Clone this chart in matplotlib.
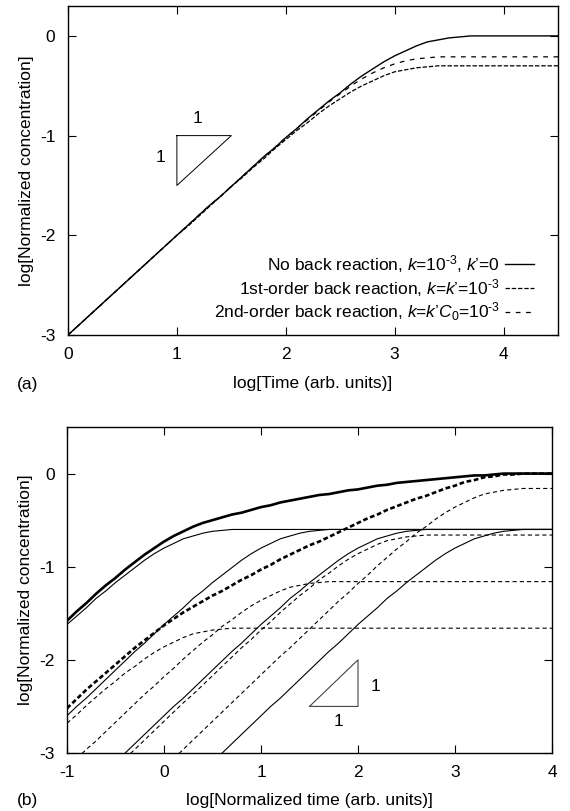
import numpy as np
import matplotlib
matplotlib.use("Agg")
import matplotlib.pyplot as plt

plt.rcParams['font.family'] = ['Liberation Sans', 'DejaVu Sans']
plt.rcParams['mathtext.fontset'] = 'custom'
plt.rcParams['mathtext.rm'] = 'Liberation Sans'
plt.rcParams['mathtext.it'] = 'Liberation Sans:italic'
plt.rcParams['mathtext.bf'] = 'Liberation Sans:bold'
plt.rcParams['axes.unicode_minus'] = False
plt.rcParams['lines.scale_dashes'] = False

# ---------------- panel (a) data: log time 0..4.5, step 0.1 ----------------
xa = np.round(np.arange(0, 4.55, 0.1), 1)
a_none = [-3.00, -2.90, -2.80, -2.70, -2.60, -2.50, -2.40, -2.30, -2.20, -2.10,
          -2.00, -1.90, -1.80, -1.70, -1.61, -1.51, -1.41, -1.31, -1.21, -1.12,
          -1.02, -0.93, -0.83, -0.74, -0.65, -0.57, -0.48, -0.40, -0.33, -0.26,
          -0.20, -0.15, -0.10, -0.06, -0.04, -0.02, -0.01] + [0.00] * 9
a_first = [-3.00, -2.90, -2.80, -2.70, -2.60, -2.50, -2.40, -2.30, -2.20, -2.10,
           -2.00, -1.91, -1.81, -1.71, -1.61, -1.51, -1.42, -1.32, -1.23, -1.13,
           -1.04, -0.95, -0.87, -0.78, -0.70, -0.63, -0.56, -0.50, -0.45, -0.40,
           -0.36, -0.34, -0.32, -0.31] + [-0.30] * 12
a_second = [-3.00, -2.90, -2.80, -2.70, -2.60, -2.50, -2.40, -2.30, -2.20, -2.10,
            -2.00, -1.90, -1.80, -1.70, -1.61, -1.51, -1.41, -1.31, -1.21, -1.12,
            -1.02, -0.93, -0.84, -0.75, -0.66, -0.58, -0.50, -0.43, -0.37, -0.32,
            -0.28, -0.25, -0.23, -0.22] + [-0.21] * 12
labels_a = [r"No back reaction, $k$=10$^{\text{-}3}$, $k$’=0",
            r"1st-order back reaction, $k$=$k$’=10$^{\text{-}3}$",
            r"2nd-order back reaction, $k$=$k$’$C_0$=10$^{\text{-}3}$"]
tri_a_x = [1.0, 1.5, 1.0, 1.0]
tri_a_y = [-1.0, -1.0, -1.5, -1.0]

# ---------------- panel (b) data: log normalized time -1..4, step 0.1 ----------------
xb = np.round(np.arange(-1, 4.05, 0.1), 1)
rise = [-2.60, -2.50, -2.41, -2.31, -2.21, -2.11, -2.01, -1.91, -1.82, -1.72,
        -1.62, -1.53, -1.44, -1.34, -1.26, -1.17, -1.09, -1.01, -0.93, -0.86,
        -0.80, -0.75, -0.70, -0.67, -0.64, -0.62, -0.61, -0.60]
b_s0 = [-1.62, -1.53, -1.44, -1.34, -1.26, -1.17, -1.09, -1.01, -0.93, -0.86,
        -0.80, -0.75, -0.70, -0.67, -0.64, -0.62, -0.61] + [-0.60] * 34
b_s1 = rise + [-0.60] * 23
b_s2 = [-3.00, -2.90, -2.80, -2.70] + rise + [-0.60] * 13
b_s3 = [-3.00, -2.90, -2.80, -2.70] + rise + [-0.60] * 3
b_S = [-1.58, -1.48, -1.39, -1.29, -1.20, -1.12, -1.03, -0.95, -0.87, -0.80,
       -0.73, -0.67, -0.62, -0.57, -0.53, -0.50, -0.47, -0.44, -0.42, -0.39,
       -0.36, -0.34, -0.31, -0.29, -0.27, -0.25, -0.23, -0.22, -0.20, -0.18,
       -0.17, -0.15, -0.13, -0.12, -0.10, -0.09, -0.08, -0.07, -0.06, -0.05,
       -0.04, -0.03, -0.02, -0.02, -0.01, 0.00] + [0.00] * 5
b_d0 = [-2.68, -2.59, -2.49, -2.40, -2.31, -2.23, -2.14, -2.07, -1.99, -1.92,
        -1.86, -1.81, -1.76, -1.72, -1.70, -1.68, -1.67] + [-1.66] * 34
b_d1 = [-3.06, -2.96, -2.87, -2.77, -2.67, -2.57, -2.47, -2.37, -2.28, -2.18,
        -2.09, -1.99, -1.90, -1.81, -1.73, -1.64, -1.57, -1.49, -1.42, -1.36,
        -1.31, -1.26, -1.22, -1.20, -1.18, -1.17] + [-1.16] * 24
b_d2 = [-3.06, -2.96, -2.86, -2.76, -2.66, -2.56, -2.46, -2.37, -2.27, -2.17,
        -2.07, -1.97, -1.87, -1.78, -1.68, -1.59, -1.49, -1.40, -1.31, -1.23,
        -1.14, -1.07, -0.99, -0.92, -0.86, -0.81, -0.76, -0.72, -0.70, -0.68,
        -0.67] + [-0.66] * 14
b_d3 = [-3.06, -2.96, -2.86, -2.76, -2.66, -2.56, -2.46, -2.36, -2.26, -2.16,
        -2.06, -1.96, -1.87, -1.77, -1.67, -1.57, -1.47, -1.37, -1.28, -1.18,
        -1.09, -0.99, -0.90, -0.81, -0.73, -0.64, -0.57, -0.49, -0.42, -0.36,
        -0.31, -0.26, -0.22, -0.20, -0.18, -0.17] + [-0.16] * 4
b_D = [-2.52, -2.42, -2.32, -2.23, -2.14, -2.05, -1.96, -1.87, -1.79, -1.71,
       -1.63, -1.56, -1.49, -1.43, -1.37, -1.31, -1.26, -1.20, -1.14, -1.09,
       -1.03, -0.98, -0.92, -0.87, -0.82, -0.77, -0.73, -0.68, -0.63, -0.58,
       -0.53, -0.48, -0.44, -0.39, -0.35, -0.31, -0.27, -0.24, -0.20, -0.16,
       -0.13, -0.09, -0.07, -0.04, -0.03, -0.01, -0.01] + [0.00] * 4
tri_b_x = [1.5, 2.0, 2.0, 1.5]
tri_b_y = [-2.5, -2.5, -2.0, -2.5]


def tail_x(arr):
    return xb[len(xb) - len(arr):]


W, H = 570, 811
fig = plt.figure(figsize=(W / 100, H / 100), dpi=100)
ax_a = fig.add_axes([68 / W, 1 - 335 / H, (558 - 68) / W, (335 - 6) / H])
ax_b = fig.add_axes([67 / W, 1 - 753 / H, (552 - 67) / W, (753 - 427) / H])

FS = 12.5
for ax in (ax_a, ax_b):
    ax.tick_params(direction='in', top=True, right=True, length=6, width=0.8,
                   labelsize=FS)
    ax.tick_params(axis='x', pad=8.5)
    ax.tick_params(axis='y', pad=9)
    for s in ax.spines.values():
        s.set_linewidth(1.0)

# ---- panel (a)
h0, = ax_a.plot(xa, a_none, color='black', lw=1.0)
h1, = ax_a.plot(xa, a_first, color='black', lw=0.9, dashes=(3.2, 1.3))
h2, = ax_a.plot(xa, a_second, color='black', lw=0.9, dashes=(3.4, 4.0))
ax_a.plot(tri_a_x, tri_a_y, color='black', lw=0.7)
ax_a.text(1.19, -0.83, "1", fontsize=FS, ha='center', va='center')
ax_a.text(0.845, -1.22, "1", fontsize=FS, ha='center', va='center')
ax_a.set_xlim(0, 4.5)
ax_a.set_ylim(-3, 0.3)
ax_a.set_xticks([0, 1, 2, 3, 4])
ax_a.set_yticks([-3, -2, -1, 0])
ax_a.legend([h0, h1, h2], labels_a, loc='lower right', bbox_to_anchor=(0.951, 0.035),
            frameon=False, markerfirst=False, fontsize=FS, borderpad=0,
            handlelength=1.65, handletextpad=0.3, labelspacing=0.12, borderaxespad=0)
ax_a.set_xlabel("log[Time (arb. units)]", fontsize=FS)
ax_a.xaxis.set_label_coords(0.5, -0.126)
ax_a.set_ylabel("log[Normalized concentration]", fontsize=FS)
ax_a.yaxis.set_label_coords(-0.07, 0.5)

# ---- panel (b)
thin = dict(color='black', lw=0.8)
for arr in (b_s0, b_s1, b_s2, b_s3):
    ax_b.plot(tail_x(arr), arr, **thin)
for arr in (b_d0, b_d1, b_d2, b_d3):
    ax_b.plot(tail_x(arr), arr, dashes=(3.0, 2.2), **thin)
ax_b.plot(tail_x(b_S), b_S, color='black', lw=1.9)
ax_b.plot(tail_x(b_D), b_D, color='black', lw=1.9, dashes=(3.4, 1.9))
ax_b.plot(tri_b_x, tri_b_y, color='#444444', lw=0.8)
ax_b.text(1.80, -2.66, "1", fontsize=FS, ha='center', va='center')
ax_b.text(2.18, -2.29, "1", fontsize=FS, ha='center', va='center')
ax_b.set_xlim(-1, 4)
ax_b.set_ylim(-3, 0.5)
ax_b.set_xticks([-1, 0, 1, 2, 3, 4])
ax_b.set_yticks([-3, -2, -1, 0])
ax_b.set_xlabel("log[Normalized time (arb. units)]", fontsize=FS)
ax_b.xaxis.set_label_coords(0.5, -0.122)
ax_b.set_ylabel("log[Normalized concentration]", fontsize=FS)
ax_b.yaxis.set_label_coords(-0.07, 0.5)

fig.text(28 / W, 1 - 385 / H, "(a)", fontsize=FS, ha='center', va='center')
fig.text(28 / W, 1 - 800 / H, "(b)", fontsize=FS, ha='center', va='center')

fig.savefig("out.png", dpi=100)
